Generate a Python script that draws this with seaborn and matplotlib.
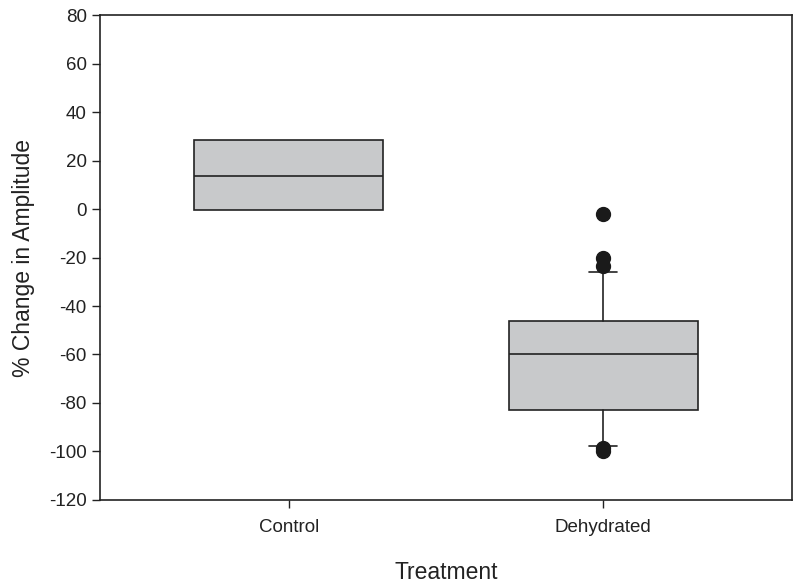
import matplotlib
matplotlib.use("Agg")
import matplotlib.pyplot as plt
import seaborn as sns

# box summary values
groups = ["Control", "Dehydrated"]
q1 = [-0.6, -83.0]
median = [13.8, -60.0]
q3 = [28.5, -46.0]
whisker_low = [-0.6, -97.7]
whisker_high = [28.5, -26.0]
fliers = [[], [-2.0, -20.0, -23.7, -98.5, -100.0]]
has_caps = [False, True]

yticks = list(range(-120, 81, 20))

sns.set_style("ticks")
plt.rcParams["font.family"] = ["Liberation Sans", "DejaVu Sans"]
plt.rcParams["axes.unicode_minus"] = False

stats = []
for i, name in enumerate(groups):
    stats.append({
        "label": name,
        "q1": q1[i],
        "med": median[i],
        "q3": q3[i],
        "whislo": whisker_low[i],
        "whishi": whisker_high[i],
        "fliers": fliers[i],
    })

fig = plt.figure(figsize=(8, 5.83), dpi=100)
ax = fig.add_axes([0.125, 0.1424, 0.865, 0.8318])

line_col = "#222222"
parts = ax.bxp(
    stats,
    positions=[0, 1],
    widths=0.6,
    patch_artist=True,
    showcaps=True,
    boxprops=dict(facecolor="#c8c9cb", edgecolor=line_col, linewidth=1.2),
    medianprops=dict(color=line_col, linewidth=1.2),
    whiskerprops=dict(color=line_col, linewidth=1.2),
    capprops=dict(color=line_col, linewidth=1.2),
    capwidths=0.09,
    flierprops=dict(marker="o", markerfacecolor="#1a1a1a", markeredgecolor="#1a1a1a", markersize=10),
)
# no whisker caps on the control box
for i, show in enumerate(has_caps):
    if not show:
        for cap in parts["caps"][2 * i:2 * i + 2]:
            cap.set_visible(False)
        for wh in parts["whiskers"][2 * i:2 * i + 2]:
            wh.set_visible(False)

ax.set_xlim(-0.6, 1.6)
ax.set_ylim(-120, 80)
ax.set_yticks(yticks)
ax.set_xticks([0, 1])
ax.set_xticklabels(groups)
ax.tick_params(axis="both", labelsize=13.5, length=6, width=1, color=line_col, labelcolor="#222222", direction="out")
ax.tick_params(axis="x", pad=8)
for side in ["left", "right", "top", "bottom"]:
    ax.spines[side].set_visible(True)
    ax.spines[side].set_color(line_col)
    ax.spines[side].set_linewidth(1.2)

ax.set_xlabel("Treatment", fontsize=16.5, color="#222222", labelpad=18)
ax.set_ylabel("% Change in Amplitude", fontsize=16.5, color="#222222", labelpad=10)

fig.savefig("out.png", dpi=100)
